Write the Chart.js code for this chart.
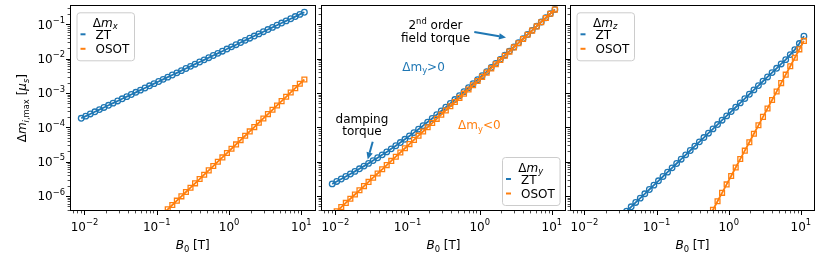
<!DOCTYPE html>
<html>
<head>
<meta charset="utf-8">
<script src="https://cdn.jsdelivr.net/npm/chart.js@4.4.1/dist/chart.umd.min.js"></script>
<style>
  body { margin: 0; background: #fff; }
  canvas { position: absolute; left: 0; top: 0; }
</style>
</head>
<body>
<canvas id="panelX" width="831" height="261"></canvas>
<canvas id="panelY" width="831" height="261"></canvas>
<canvas id="panelZ" width="831" height="261"></canvas>
<script>
// B0 [T], same sweep for every panel
const field = [0.00902, 0.01042, 0.01205, 0.01393, 0.01611, 0.01862, 0.02153, 0.02489, 0.02877, 0.03327,
  0.03846, 0.04446, 0.05140, 0.05943, 0.06871, 0.07943, 0.09183, 0.1062, 0.1227, 0.1419,
  0.1641, 0.1897, 0.2193, 0.2535, 0.2931, 0.3388, 0.3917, 0.4529, 0.5236, 0.6053,
  0.6998, 0.8091, 0.9354, 1.081, 1.250, 1.445, 1.671, 1.932, 2.234, 2.582,
  2.985, 3.451, 3.990, 4.613, 5.333, 6.166, 7.129, 8.241, 9.528, 11.02];

// dm_x
const ztX = [1.831e-4, 2.115e-4, 2.446e-4, 2.828e-4, 3.270e-4, 3.780e-4, 4.371e-4, 5.053e-4, 5.840e-4, 6.754e-4,
  7.807e-4, 9.025e-4, 1.043e-3, 1.206e-3, 1.395e-3, 1.612e-3, 1.864e-3, 2.156e-3, 2.491e-3, 2.881e-3,
  3.331e-3, 3.851e-3, 4.452e-3, 5.146e-3, 5.950e-3, 6.878e-3, 7.952e-3, 9.194e-3, 1.063e-2, 1.229e-2,
  1.421e-2, 1.642e-2, 1.899e-2, 2.194e-2, 2.538e-2, 2.933e-2, 3.392e-2, 3.922e-2, 4.535e-2, 5.241e-2,
  6.060e-2, 7.006e-2, 8.100e-2, 9.364e-2, 0.1083, 0.1252, 0.1447, 0.1673, 0.1934, 0.2237];
const osotX = [1.652e-9, 2.208e-9, 2.951e-9, 3.945e-9, 5.272e-9, 7.047e-9, 9.419e-9, 1.259e-8, 1.683e-8, 2.249e-8,
  3.006e-8, 4.018e-8, 5.370e-8, 7.178e-8, 9.594e-8, 1.282e-7, 1.714e-7, 2.291e-7, 3.062e-7, 4.093e-7,
  5.470e-7, 7.311e-7, 9.772e-7, 1.306e-6, 1.746e-6, 2.333e-6, 3.119e-6, 4.169e-6, 5.572e-6, 7.447e-6,
  9.954e-6, 1.330e-5, 1.778e-5, 2.377e-5, 3.177e-5, 4.246e-5, 5.675e-5, 7.586e-5, 1.014e-4, 1.355e-4,
  1.811e-4, 2.421e-4, 3.236e-4, 4.325e-4, 5.781e-4, 7.727e-4, 1.033e-3, 1.380e-3, 1.845e-3, 2.466e-3];

// dm_y
const ztY = [2.254e-6, 2.650e-6, 3.126e-6, 3.694e-6, 4.378e-6, 5.201e-6, 6.202e-6, 7.417e-6, 8.902e-6, 1.073e-5,
  1.298e-5, 1.577e-5, 1.925e-5, 2.359e-5, 2.907e-5, 3.595e-5, 4.470e-5, 5.583e-5, 7.003e-5, 8.826e-5,
  1.117e-4, 1.419e-4, 1.811e-4, 2.318e-4, 2.978e-4, 3.838e-4, 4.961e-4, 6.429e-4, 8.353e-4, 1.088e-3,
  1.419e-3, 1.855e-3, 2.428e-3, 3.183e-3, 4.179e-3, 5.492e-3, 7.227e-3, 9.515e-3, 1.254e-2, 1.654e-2,
  2.183e-2, 2.881e-2, 3.806e-2, 5.030e-2, 6.648e-2, 8.792e-2, 0.1163, 0.1539, 0.2037, 0.2696];
const osotY = [2.702e-7, 3.580e-7, 4.747e-7, 6.290e-7, 8.337e-7, 1.105e-6, 1.465e-6, 1.941e-6, 2.573e-6, 3.410e-6,
  4.520e-6, 5.990e-6, 7.940e-6, 1.052e-5, 1.395e-5, 1.848e-5, 2.450e-5, 3.247e-5, 4.304e-5, 5.704e-5,
  7.561e-5, 1.002e-4, 1.328e-4, 1.760e-4, 2.333e-4, 3.093e-4, 4.099e-4, 5.433e-4, 7.201e-4, 9.544e-4,
  1.265e-3, 1.677e-3, 2.222e-3, 2.945e-3, 3.904e-3, 5.174e-3, 6.859e-3, 9.090e-3, 1.205e-2, 1.597e-2,
  2.117e-2, 2.805e-2, 3.718e-2, 4.928e-2, 6.531e-2, 8.656e-2, 0.1147, 0.1521, 0.2016, 0.2672];

// dm_z
const ztZ = [1.995e-8, 2.667e-8, 3.565e-8, 4.764e-8, 6.368e-8, 8.511e-8, 1.138e-7, 1.521e-7, 2.032e-7, 2.716e-7,
  3.631e-7, 4.853e-7, 6.486e-7, 8.670e-7, 1.159e-6, 1.549e-6, 2.070e-6, 2.767e-6, 3.698e-6, 4.943e-6,
  6.607e-6, 8.831e-6, 1.180e-5, 1.578e-5, 2.109e-5, 2.818e-5, 3.767e-5, 5.035e-5, 6.730e-5, 8.995e-5,
  1.202e-4, 1.607e-4, 2.148e-4, 2.871e-4, 3.837e-4, 5.129e-4, 6.855e-4, 9.162e-4, 1.225e-3, 1.637e-3,
  2.188e-3, 2.924e-3, 3.908e-3, 5.224e-3, 6.982e-3, 9.333e-3, 1.306e-2, 1.828e-2, 2.742e-2, 4.508e-2];
const osotZ = [2.99e-14, 5.26e-14, 9.27e-14, 1.632e-13, 2.873e-13, 5.058e-13, 8.905e-13, 1.568e-12, 2.760e-12, 4.860e-12,
  8.557e-12, 1.507e-11, 2.653e-11, 4.671e-11, 8.225e-11, 1.449e-10, 2.551e-10, 4.491e-10, 7.907e-10, 1.392e-9,
  2.451e-9, 4.316e-9, 7.600e-9, 1.338e-8, 2.356e-8, 4.150e-8, 7.305e-8, 1.287e-7, 2.265e-7, 3.989e-7,
  7.023e-7, 1.237e-6, 2.177e-6, 3.834e-6, 6.751e-6, 1.189e-5, 2.093e-5, 3.684e-5, 6.488e-5, 1.142e-4,
  2.011e-4, 3.541e-4, 6.235e-4, 1.098e-3, 1.933e-3, 3.404e-3, 5.993e-3, 1.055e-2, 1.858e-2, 3.272e-2];

// axes
const xTicks = [0.01, 0.1, 1, 10];
const xTickExp = ['\u22122', '\u22121', '0', '1'];
const yTicks = [1e-6, 1e-5, 1e-4, 1e-3, 1e-2, 1e-1];
const yTickExp = ['\u22126', '\u22125', '\u22124', '\u22123', '\u22122', '\u22121'];
const xRange = [0.00631, 15.7];
const yRange = [3.66e-7, 0.356];

const BLUE = '#1f77b4';
const ORANGE = '#ff7f0e';
const FONT = "'DejaVu Sans', sans-serif";

function fontOf(p) {
  return (p.it ? 'italic ' : '') + (p.s || 12) + 'px ' + FONT;
}

// draw a run of text pieces (sub/superscripts via size + dy)
function drawRuns(ctx, parts, x, y, align) {
  let w = 0;
  for (const p of parts) { ctx.font = fontOf(p); w += ctx.measureText(p.t).width; }
  let cx = align === 'center' ? x - w / 2 : (align === 'right' ? x - w : x);
  for (const p of parts) {
    ctx.font = fontOf(p);
    ctx.fillText(p.t, cx, y + (p.dy || 0));
    cx += ctx.measureText(p.t).width;
  }
  return w;
}

function arrow(ctx, x1, y1, x2, y2, color) {
  const ang = Math.atan2(y2 - y1, x2 - x1);
  const hl = 7, hw = 3.2;
  const bx = x2 - hl * Math.cos(ang), by = y2 - hl * Math.sin(ang);
  ctx.strokeStyle = color; ctx.fillStyle = color; ctx.lineWidth = 2;
  ctx.beginPath(); ctx.moveTo(x1, y1); ctx.lineTo(bx, by); ctx.stroke();
  ctx.beginPath();
  ctx.moveTo(x2, y2);
  ctx.lineTo(bx + hw * Math.sin(ang), by - hw * Math.cos(ang));
  ctx.lineTo(bx - hw * Math.sin(ang), by + hw * Math.cos(ang));
  ctx.closePath(); ctx.fill();
}

function minorTicks(lo, hi) {
  const out = [];
  for (let d = Math.floor(Math.log10(lo)); d <= Math.ceil(Math.log10(hi)); d++) {
    for (let m = 2; m <= 9; m++) {
      const v = m * Math.pow(10, d);
      if (v > lo && v < hi) out.push(v);
    }
  }
  return out;
}

const mplAxes = {
  id: 'mplAxes',
  afterDraw(chart, args, opts) {
    const ctx = chart.ctx, a = chart.chartArea;
    const xs = chart.scales.x, ys = chart.scales.y;
    ctx.save();
    ctx.textBaseline = 'alphabetic';

    // ticks
    ctx.strokeStyle = '#000';
    ctx.lineWidth = 1;
    ctx.beginPath();
    for (const v of xTicks) {
      const px = Math.round(xs.getPixelForValue(v)) + 0.5;
      ctx.moveTo(px, a.bottom); ctx.lineTo(px, a.bottom + 4);
    }
    for (const v of yTicks) {
      const py = Math.round(ys.getPixelForValue(v)) + 0.5;
      ctx.moveTo(a.left, py); ctx.lineTo(a.left - 4, py);
    }
    ctx.stroke();
    ctx.lineWidth = 0.7;
    ctx.beginPath();
    for (const v of minorTicks(xRange[0], xRange[1])) {
      const px = Math.round(xs.getPixelForValue(v)) + 0.5;
      ctx.moveTo(px, a.bottom); ctx.lineTo(px, a.bottom + 2.4);
    }
    for (const v of minorTicks(yRange[0], yRange[1])) {
      const py = Math.round(ys.getPixelForValue(v)) + 0.5;
      ctx.moveTo(a.left, py); ctx.lineTo(a.left - 2.4, py);
    }
    ctx.stroke();

    // spines
    ctx.lineWidth = 1;
    ctx.strokeRect(Math.round(a.left) + 0.5, Math.round(a.top) + 0.5,
      Math.round(a.right - a.left) - 1, Math.round(a.bottom - a.top) - 1);

    // tick labels
    ctx.fillStyle = '#000';
    xTicks.forEach((v, i) => {
      drawRuns(ctx, [{ t: '10' }, { t: xTickExp[i], s: 8.4, dy: -5.7 }], xs.getPixelForValue(v), a.bottom + 19.7, 'center');
    });
    if (opts.yLabels) {
      yTicks.forEach((v, i) => {
        drawRuns(ctx, [{ t: '10' }, { t: yTickExp[i], s: 8.4, dy: -5.7 }], a.left - 5, ys.getPixelForValue(v) + 4.3, 'right');
      });
      ctx.save();
      ctx.translate(26, (a.top + a.bottom) / 2);
      ctx.rotate(-Math.PI / 2);
      drawRuns(ctx, [{ t: '\u0394' }, { t: 'm', it: true }, { t: 'i', it: true, s: 8.4, dy: 2.6 },
        { t: ',', s: 8.4, dy: 2.6 }, { t: 'max', s: 8.4, dy: 2.6 }, { t: ' [' }, { t: '\u03bc', it: true },
        { t: 's', it: true, s: 8.4, dy: 2.6 }, { t: ']' }], 0, 0, 'center');
      ctx.restore();
    }
    drawRuns(ctx, [{ t: 'B', it: true }, { t: '0', s: 8.4, dy: 2.6 }, { t: ' [T]' }], (a.left + a.right) / 2, 249, 'center');

    // legend
    const lg = opts.legend;
    if (lg) {
      const w = 57.5, h = 48;
      const bx = lg.corner === 'tl' ? a.left + 6.5 : a.right - 6.5 - w;
      const by = lg.corner === 'tl' ? a.top + 7 : a.bottom - 6 - h;
      ctx.beginPath();
      ctx.roundRect(bx + 0.5, by + 0.5, w, h, 3);
      ctx.fillStyle = 'rgba(255,255,255,0.8)';
      ctx.fill();
      ctx.strokeStyle = '#cccccc';
      ctx.lineWidth = 1;
      ctx.stroke();
      ctx.fillStyle = '#000';
      drawRuns(ctx, [{ t: '\u0394' }, { t: 'm', it: true }, { t: lg.sub, it: true, s: 8.4, dy: 2.6 }], bx + w / 2, by + 14.5, 'center');
      [['ZT', BLUE, 22], ['OSOT', ORANGE, 36.5]].forEach(([txt, col, dy]) => {
        ctx.strokeStyle = col; ctx.lineWidth = 2;
        ctx.beginPath(); ctx.moveTo(bx + 4, by + dy); ctx.lineTo(bx + 9, by + dy); ctx.stroke();
        ctx.fillStyle = '#000';
        drawRuns(ctx, [{ t: txt }], bx + 19, by + dy + 4.5, 'left');
      });
    }

    // annotations (data coordinates)
    for (const n of (opts.notes || [])) {
      ctx.fillStyle = n.color;
      drawRuns(ctx, n.parts, xs.getPixelForValue(n.x), ys.getPixelForValue(n.y), 'center');
    }
    for (const r of (opts.arrows || [])) {
      arrow(ctx, xs.getPixelForValue(r.from[0]), ys.getPixelForValue(r.from[1]),
        xs.getPixelForValue(r.to[0]), ys.getPixelForValue(r.to[1]), r.color);
    }
    ctx.restore();
  }
};

function series(vals) {
  return field.map((b, i) => ({ x: b, y: vals[i] }));
}

function makePanel(id, left, right, zt, osot, extra) {
  return new Chart(document.getElementById(id), {
    type: 'line',
    data: {
      datasets: [
        { label: 'ZT', data: series(zt), borderColor: BLUE, borderWidth: 1.8,
          pointStyle: 'circle', pointRadius: 2.8, pointBorderWidth: 1.3,
          pointBorderColor: BLUE, pointBackgroundColor: 'rgba(0,0,0,0)', order: 1 },
        { label: 'OSOT', data: series(osot), borderColor: ORANGE, borderWidth: 1.8,
          pointStyle: 'rect', pointRadius: 3.4, pointBorderWidth: 1.3,
          pointBorderColor: ORANGE, pointBackgroundColor: 'rgba(0,0,0,0)', order: 0 }
      ]
    },
    options: {
      responsive: false,
      animation: false,
      devicePixelRatio: 1,
      layout: { padding: { left: left, right: 831 - right, top: 5, bottom: 50 } },
      elements: { line: { tension: 0 } },
      scales: {
        x: { type: 'logarithmic', min: xRange[0], max: xRange[1], display: false },
        y: { type: 'logarithmic', min: yRange[0], max: yRange[1], display: false }
      },
      plugins: { legend: { display: false }, tooltip: { enabled: false }, mplAxes: extra }
    },
    plugins: [mplAxes]
  });
}

makePanel('panelX', 70, 315.5, ztX, osotX, { yLabels: true, legend: { corner: 'tl', sub: 'x' } });

makePanel('panelY', 321, 566, ztY, osotY, {
  legend: { corner: 'br', sub: 'y' },
  notes: [
    { x: 0.244, y: 0.0750, color: '#000', parts: [{ t: '2' }, { t: 'nd', s: 8.4, dy: -5 }, { t: ' order' }] },
    { x: 0.244, y: 0.0305, color: '#000', parts: [{ t: 'field torque' }] },
    { x: 0.1663, y: 4.39e-3, color: BLUE, parts: [{ t: '\u0394m' }, { t: 'y', s: 8.4, dy: 2.6 }, { t: '>0' }] },
    { x: 0.987, y: 8.85e-5, color: ORANGE, parts: [{ t: '\u0394m' }, { t: 'y', s: 8.4, dy: 2.6 }, { t: '<0' }] },
    { x: 0.0233, y: 1.35e-4, color: '#000', parts: [{ t: 'damping' }] },
    { x: 0.0233, y: 5.93e-5, color: '#000', parts: [{ t: 'torque' }] }
  ],
  arrows: [
    { from: [0.841, 0.0597], to: [2.315, 0.0410], color: BLUE },
    { from: [0.03286, 3.78e-5], to: [0.02802, 1.164e-5], color: BLUE }
  ]
});

makePanel('panelZ', 570, 815, ztZ, osotZ, { legend: { corner: 'tl', sub: 'z' } });
</script>
</body>
</html>
